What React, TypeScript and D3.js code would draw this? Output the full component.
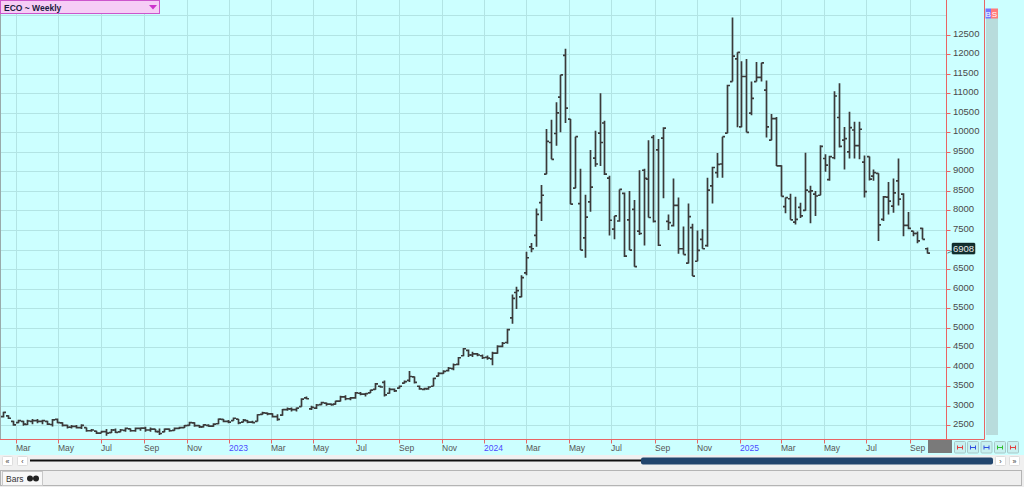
import React from 'react';
import * as d3 from 'd3';

// Weekly OHLC values, first week ending 2022-02-11
const opens = [
  2720, 2740, 2600, 2570, 2600, 2520, 2600, 2620, 2600, 2600, 2520, 2650, 2560, 2500, 2450, 2470, 2440, 2440, 2360, 2350,
  2300, 2340, 2310, 2380, 2330, 2370, 2410, 2360, 2420, 2430, 2380, 2400, 2340, 2330, 2400, 2370, 2420, 2440, 2500, 2560,
  2490, 2460, 2500, 2480, 2540, 2650, 2600, 2620, 2660, 2580, 2620, 2580, 2600, 2780, 2810, 2790, 2720, 2760, 2900, 2920,
  2900, 2980, 3200, 2920, 2940, 3030, 3070, 3040, 3040, 3120, 3230, 3180, 3200, 3320, 3300, 3330, 3420, 3500, 3600, 3320,
  3420, 3450, 3580, 3650, 3740, 3500, 3420, 3430, 3500, 3760, 3830, 3900, 3950, 4060, 4280, 4420, 4300, 4330, 4280, 4240,
  4200, 4350, 4520, 4620, 5250, 5900, 5790, 6400, 7070, 7360, 8200, 8930, 9740, 9970, 10900, 11970, 10340, 8570, 8175, 7300,
  8220, 9340, 9980, 10240, 8830, 7520, 7730, 8440, 7760, 8030, 7470, 9030, 8800, 9870, 9550, 9850, 7720, 7610, 8130, 7020,
  6650, 7560, 6700, 7260, 7100, 8630, 8970, 9190, 9980, 11300, 11880, 10140, 11430, 10490, 11300, 11410, 11080, 9800, 10350, 9140,
  8100, 8300, 7700, 8080, 8000, 8480, 8420, 8390, 9330, 8790, 9350, 10380, 9800, 9500, 10060, 9660, 9240, 9380, 8880, 8950,
  7770, 8340, 8110, 8760, 8420, 7620, 7470, 7410, 7540, 7020,
];
const highs = [
  2846, 2760, 2615, 2640, 2615, 2640, 2660, 2660, 2640, 2615, 2660, 2675, 2575, 2515, 2505, 2505, 2530, 2445, 2405, 2360,
  2360, 2405, 2405, 2420, 2405, 2445, 2420, 2445, 2445, 2465, 2445, 2405, 2420, 2420, 2420, 2445, 2465, 2505, 2590, 2575,
  2505, 2530, 2530, 2550, 2675, 2660, 2635, 2700, 2660, 2660, 2635, 2615, 2785, 2845, 2830, 2810, 2785, 2915, 2955, 2955,
  2955, 3190, 3240, 3000, 3045, 3100, 3085, 3060, 3130, 3255, 3270, 3225, 3350, 3350, 3330, 3410, 3580, 3520, 3650, 3460,
  3440, 3520, 3650, 3890, 3750, 3520, 3460, 3500, 3720, 3860, 3910, 3990, 4080, 4250, 4480, 4440, 4380, 4350, 4310, 4290,
  4380, 4550, 4630, 4970, 5850, 6050, 6340, 6940, 7170, 8050, 8650, 10085, 10320, 10770, 11470, 12140, 10340, 9890, 9070, 8400,
  9550, 10040, 11000, 10300, 8890, 7860, 8540, 8460, 8500, 8270, 9030, 9070, 9800, 9930, 9830, 10130, 7900, 8820, 8330, 7590,
  8180, 7660, 7490, 7520, 8840, 9120, 9470, 9890, 11220, 12940, 12050, 11820, 11880, 11300, 11800, 11780, 11330, 10470, 10390, 9160,
  8330, 8430, 8350, 8200, 9480, 8630, 8500, 9670, 9440, 9400, 11050, 11260, 10140, 10530, 10270, 10270, 9410, 9380, 9050, 8950,
  8370, 8730, 8820, 9330, 8440, 7960, 7470, 7460, 7560, 7050,
];
const lows = [
  2700, 2660, 2490, 2555, 2490, 2505, 2530, 2550, 2530, 2505, 2470, 2555, 2470, 2420, 2420, 2420, 2405, 2335, 2335, 2275,
  2300, 2230, 2300, 2300, 2320, 2335, 2335, 2335, 2360, 2335, 2335, 2320, 2250, 2320, 2335, 2360, 2405, 2430, 2490, 2465,
  2430, 2445, 2465, 2465, 2530, 2575, 2550, 2615, 2530, 2575, 2550, 2550, 2600, 2770, 2760, 2700, 2615, 2745, 2870, 2855,
  2855, 2975, 3170, 2890, 2915, 3015, 3000, 3000, 3025, 3110, 3140, 3140, 3180, 3270, 3240, 3330, 3410, 3460, 3240, 3310,
  3350, 3440, 3570, 3610, 3570, 3410, 3400, 3410, 3500, 3750, 3820, 3880, 3910, 4040, 4265, 4250, 4250, 4265, 4200, 4180,
  4035, 4330, 4500, 4590, 5100, 5480, 5780, 6340, 6930, 7070, 7730, 8930, 9310, 9660, 10000, 10240, 8160, 8570, 6985, 6790,
  7970, 9120, 9140, 8910, 7360, 7260, 7710, 6810, 6985, 6560, 7370, 7100, 7820, 7690, 7090, 8310, 7500, 7590, 6890, 6870,
  6640, 6320, 6700, 7020, 7070, 8180, 8840, 8840, 9980, 11300, 10130, 10130, 10000, 10440, 11300, 11300, 9870, 9800, 9140, 8360,
  7930, 7760, 7640, 7810, 7990, 7670, 7860, 8390, 8990, 8760, 9310, 9610, 9050, 9330, 9330, 9310, 8330, 8770, 8760, 7220,
  7730, 7900, 7940, 8130, 7340, 7520, 7340, 7160, 7260, 6900,
];
const closes = [
  2830, 2680, 2510, 2620, 2530, 2610, 2620, 2600, 2620, 2530, 2640, 2570, 2500, 2450, 2470, 2440, 2500, 2360, 2380, 2300,
  2340, 2300, 2380, 2320, 2380, 2420, 2360, 2420, 2430, 2380, 2400, 2340, 2290, 2400, 2360, 2420, 2440, 2490, 2570, 2490,
  2460, 2510, 2480, 2530, 2660, 2600, 2580, 2680, 2560, 2630, 2580, 2570, 2770, 2820, 2790, 2720, 2650, 2900, 2920, 2900,
  2940, 3170, 3180, 2960, 3020, 3080, 3040, 3030, 3120, 3230, 3180, 3200, 3330, 3300, 3310, 3400, 3560, 3480, 3280, 3420,
  3380, 3500, 3620, 3750, 3600, 3430, 3440, 3480, 3700, 3830, 3880, 3960, 4050, 4230, 4460, 4300, 4330, 4300, 4230, 4220,
  4350, 4520, 4600, 4950, 5750, 5950, 6280, 6790, 7020, 7900, 8390, 9770, 9310, 10500, 11470, 10620, 8160, 9890, 6985, 7830,
  8600, 9190, 9740, 8930, 7750, 7860, 8540, 6830, 6985, 6560, 7410, 8820, 7820, 7720, 7110, 10110, 7690, 8130, 7020, 6870,
  7840, 6320, 6980, 7020, 8520, 9100, 9180, 9890, 11200, 11950, 12050, 11430, 10000, 10870, 11410, 11780, 10140, 10350, 9140, 8360,
  8330, 7760, 7770, 7860, 8520, 8500, 8370, 9640, 9160, 9380, 10930, 9640, 9840, 10120, 9660, 10080, 8480, 8800, 8970, 7630,
  8350, 8240, 8450, 8290, 7620, 7540, 7410, 7220, 7260, 6908,
];

const firstWeek = new Date(2022, 1, 11);
const yTickValues = [2500, 3000, 3500, 4000, 4500, 5000, 5500, 6000, 6500, 7000, 7500, 8000, 8500, 9000, 9500, 10000, 10500, 11000, 11500, 12000, 12500];
const gridValues = [...yTickValues, 13000];
const monthNames = ['Jan', 'Feb', 'Mar', 'Apr', 'May', 'Jun', 'Jul', 'Aug', 'Sep', 'Oct', 'Nov', 'Dec'];
const chartTitle = 'ECO ~ Weekly';
const lastLabel = '6908';

export default function App() {
  const W = 1024;
  const H = 487;
  const plotRight = 946.5;
  const axisRight = 984.5;
  const axisY = 439.5;

  const x = d3.scaleTime().domain([new Date(2023, 0, 1), new Date(2025, 0, 1)]).range([229.3, 740]);
  const y = d3.scaleLinear().domain([2500, 12500]).range([425.3, 34.7]);

  const dates = closes.map((_, i) => d3.timeWeek.offset(firstWeek, i));
  const monthTicks = d3.timeMonth.every(2)!.range(new Date(2022, 1, 1), new Date(2025, 9, 1));

  const font = "'Liberation Sans', Arial, sans-serif";
  const barColor = '#3a3a3a';
  const gridColor = '#b2e4e4';
  const red = '#e86464';

  const bars = closes.map((c, i) => {
    const bx = Math.round(x(dates[i])) + 0.5;
    const d = `M${bx},${y(highs[i])}V${y(lows[i])}M${bx - 2.5},${y(opens[i])}H${bx}M${bx},${y(c)}H${bx + 2.5}`;
    return <path key={i} d={d} stroke={barColor} strokeWidth={1.7} fill="none" />;
  });

  const lastY = y(closes[closes.length - 1]);

  return (
    <svg width={W} height={H} style={{ position: 'absolute', left: 0, top: 0, fontFamily: font }}>
      <rect x={0} y={0} width={W} height={455} fill="#ccffff" />
      {/* horizontal grid */}
      {gridValues.map((v) => (
        <line key={'g' + v} x1={0} x2={plotRight} y1={Math.round(y(v)) + 0.5} y2={Math.round(y(v)) + 0.5} stroke={gridColor} strokeWidth={1} />
      ))}
      {/* vertical grid */}
      {monthTicks.map((t, i) => (
        <line key={'v' + i} x1={Math.round(x(t)) + 0.5} x2={Math.round(x(t)) + 0.5} y1={0} y2={axisY} stroke={gridColor} strokeWidth={1} />
      ))}
      <line x1={0.5} x2={0.5} y1={0} y2={axisY} stroke="#9aa" strokeWidth={1} />

      {/* bars */}
      <g>{bars}</g>

      {/* right strip */}
      <rect x={986} y={10} width={12} height={425} fill="#b8dcdc" />
      <rect x={985.5} y={8.5} width={5.5} height={10} fill="#7676ff" />
      <rect x={991} y={8.5} width={7} height={10} fill="#ff7a7a" />
      <text x={988.2} y={16.5} fontSize={8} fill="#fff" textAnchor="middle">B</text>
      <text x={994.5} y={16.5} fontSize={8} fill="#fff" textAnchor="middle">S</text>

      {/* axis lines */}
      <line x1={plotRight} x2={plotRight} y1={0} y2={axisY} stroke={red} strokeWidth={1} />
      <line x1={axisRight} x2={axisRight} y1={0} y2={axisY} stroke={red} strokeWidth={1} />
      <line x1={0} x2={axisRight} y1={axisY} y2={axisY} stroke={red} strokeWidth={1} />

      {/* y ticks & labels */}
      {yTickValues.map((v) => {
        const ty = Math.round(y(v)) + 0.5;
        return (
          <g key={'t' + v}>
            <line x1={plotRight} x2={plotRight + 4} y1={ty} y2={ty} stroke={red} strokeWidth={1} />
            <text x={953} y={ty + 1.5} fontSize={9.5} fill="#4a4a4a">{v}</text>
          </g>
        );
      })}

      {/* last price label */}
      <line x1={plotRight + 1} x2={952} y1={lastY} y2={lastY - 2} stroke="#3a8a8a" strokeWidth={1} />
      <rect x={952} y={lastY - 10} width={23} height={11} fill="#133030" stroke="#0a1a1a" strokeWidth={0.5} rx={1} />
      <text x={963.5} y={lastY - 1} fontSize={9.5} fill="#e8e8e8" textAnchor="middle">{lastLabel}</text>

      {/* x ticks & labels */}
      {monthTicks.map((t, i) => {
        const tx = Math.round(x(t)) + 0.5;
        const isYear = t.getMonth() === 0;
        return (
          <g key={'x' + i}>
            <line x1={tx} x2={tx} y1={axisY} y2={axisY + 4} stroke={red} strokeWidth={1} />
            <text x={tx - 0.5} y={451} fontSize={8.5} fill={isYear ? '#4a4aff' : '#555'}>
              {isYear ? String(t.getFullYear()) : monthNames[t.getMonth()]}
            </text>
          </g>
        );
      })}

      {/* bottom right controls */}
      <rect x={928} y={440} width={24} height={13} fill="#7a7a7a" />
      {[
        { x: 954, c: '#e04040' },
        { x: 967, c: '#3050e0' },
        { x: 980.5, c: '#3050e0' },
        { x: 994, c: '#30c030' },
        { x: 1007, c: '#e04040' },
      ].map((b, i) => (
        <g key={'b' + i}>
          <rect x={b.x + 0.5} y={441.5} width={11} height={11.5} fill="#c8f0f0" stroke="#a8c8c8" strokeWidth={1} rx={1} />
          <path d={`M${b.x + 3.5},447.5H${b.x + 8.5}M${b.x + 3.5},445.5V449.5M${b.x + 8.5},445.5V449.5`} stroke={b.c} strokeWidth={1} fill="none" />
        </g>
      ))}

      {/* scrollbar row */}
      <rect x={0} y={455} width={W} height={15} fill="#f0f0f0" />
      <rect x={2.5} y={456.5} width={10} height={9} fill="#fff" stroke="#ddd" strokeWidth={1} rx={1} />
      <rect x={17.5} y={456.5} width={10} height={9} fill="#fff" stroke="#ddd" strokeWidth={1} rx={1} />
      <text x={7.5} y={463.5} fontSize={7} textAnchor="middle" fill="#333">«</text>
      <text x={22.5} y={463.5} fontSize={7} textAnchor="middle" fill="#333">‹</text>
      <line x1={30} x2={642} y1={460.5} y2={460.5} stroke="#111" strokeWidth={2} />
      <rect x={641} y={457.5} width={352} height={7} fill="#22466e" rx={2} />
      <rect x={995.5} y={456.5} width={10} height={9} fill="#fff" stroke="#ddd" strokeWidth={1} rx={1} />
      <rect x={1009.5} y={456.5} width={10} height={9} fill="#fff" stroke="#ddd" strokeWidth={1} rx={1} />
      <text x={1000.5} y={463.5} fontSize={7} textAnchor="middle" fill="#333">›</text>
      <text x={1014.5} y={463.5} fontSize={7} textAnchor="middle" fill="#333">»</text>

      {/* tab row */}
      <rect x={0} y={470} width={W} height={17} fill="#ececec" />
      <rect x={0.5} y={470.5} width={1021} height={15} fill="#efefef" stroke="#b4b4b4" strokeWidth={1} />
      <rect x={2.5} y={471.5} width={40} height={14} fill="#f8f8f8" stroke="#c8c8c8" strokeWidth={1} />
      <text x={6} y={482} fontSize={8.5} fill="#333">Bars</text>
      <circle cx={30} cy={478.5} r={3} fill="#222" />
      <circle cx={36} cy={478.5} r={3} fill="#222" />

      {/* title box */}
      <rect x={0.5} y={0.5} width={159} height={13} fill="#f6cdf6" stroke="#cc55cc" strokeWidth={1} />
      <text x={4} y={10.5} fontSize={8.5} fontWeight="bold" fill="#1a1a40">{chartTitle}</text>
      <path d="M149,5H157L153,9.5Z" fill="#cc33cc" />
    </svg>
  );
}
